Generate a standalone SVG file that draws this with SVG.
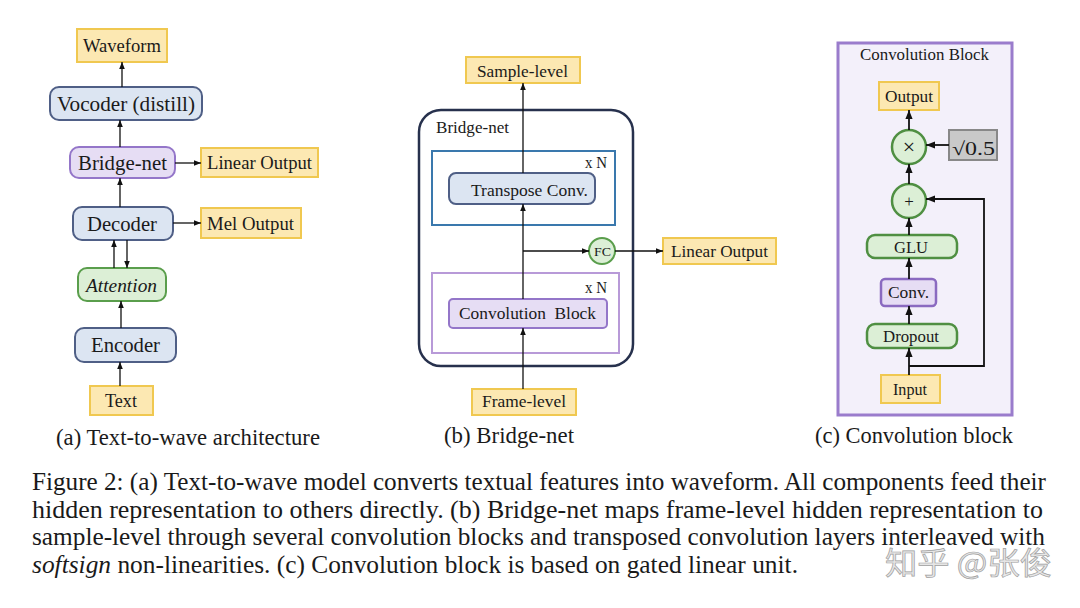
<svg xmlns="http://www.w3.org/2000/svg" width="1080" height="608" viewBox="0 0 1080 608">
<defs>
<marker id="ah" viewBox="0 0 10 10" refX="10" refY="5" markerWidth="7" markerHeight="7" markerUnits="userSpaceOnUse" orient="auto"><path d="M0,1 L10,5 L0,9 Z" fill="#111"/></marker>
<marker id="ahb" viewBox="0 0 10 10" refX="10" refY="5" markerWidth="9" markerHeight="9" markerUnits="userSpaceOnUse" orient="auto"><path d="M0,1 L10,5 L0,9 Z" fill="#111"/></marker>
<style>
text{font-family:"Liberation Serif","Times New Roman",serif;fill:#1a1a1a}
.y{fill:#fce8b2;stroke:#f0c850;stroke-width:2}
.b{fill:#dce5f2;stroke:#4f5f86;stroke-width:2}
.p{fill:#e6ddf4;stroke:#9476c9;stroke-width:2}
.g{fill:#dcefd6;stroke:#5a9e4c;stroke-width:2}
.gt{fill:#dcefd6;stroke:#4f8f42;stroke-width:2.5}
.c{fill:none;stroke:#111;stroke-width:1.3;marker-end:url(#ah)}
.cb{fill:none;stroke:#111;stroke-width:1.8;marker-end:url(#ahb)}
.t20{font-size:21px}
.t17{font-size:18.5px}
.t16{font-size:17px}
.t15{font-size:17px}
.cap{font-size:22.5px}
.body{font-size:25px}
</style>
</defs>
<rect width="1080" height="608" fill="#ffffff"/>

<!-- Panel (a) -->
<g id="a-waveform"><rect class="y" x="77" y="29" width="90" height="33"/><text class="t17" x="83" y="52" textLength="78" lengthAdjust="spacingAndGlyphs">Waveform</text></g>
<g id="a-vocoder"><rect class="b" x="50" y="87" width="152" height="33" rx="9"/><text class="t20" x="57" y="111" textLength="138" lengthAdjust="spacingAndGlyphs">Vocoder (distill)</text></g>
<g id="a-bridge"><rect class="p" x="70" y="147" width="105" height="31" rx="9"/><text class="t20" x="78" y="170" textLength="89" lengthAdjust="spacingAndGlyphs">Bridge-net</text></g>
<g id="a-linear"><rect class="y" x="201" y="148" width="117" height="29"/><text class="t17" x="207" y="169" textLength="105" lengthAdjust="spacingAndGlyphs">Linear Output</text></g>
<g id="a-decoder"><rect class="b" x="73" y="207" width="100" height="33" rx="9"/><text class="t20" x="87" y="231" textLength="70" lengthAdjust="spacingAndGlyphs">Decoder</text></g>
<g id="a-mel"><rect class="y" x="201" y="208" width="100" height="30"/><text class="t17" x="207" y="230" textLength="87" lengthAdjust="spacingAndGlyphs">Mel Output</text></g>
<g id="a-attention"><rect class="g" x="78" y="268" width="88" height="33" rx="9"/><text class="t17" x="86" y="292" font-style="italic" textLength="71" lengthAdjust="spacingAndGlyphs">Attention</text></g>
<g id="a-encoder"><rect class="b" x="75" y="328" width="101" height="34" rx="9"/><text class="t20" x="91" y="352" textLength="69" lengthAdjust="spacingAndGlyphs">Encoder</text></g>
<g id="a-text"><rect class="y" x="90" y="386" width="63" height="29"/><text class="t17" x="105" y="407" textLength="32" lengthAdjust="spacingAndGlyphs">Text</text></g>
<text class="cap" x="56" y="445" textLength="264" lengthAdjust="spacingAndGlyphs">(a) Text-to-wave architecture</text>

<!-- Panel (b) -->
<g id="b-bridge"><rect x="419" y="110" width="214" height="256" rx="22" fill="none" stroke="#27314d" stroke-width="2.5"/><text class="t16" x="436" y="133" textLength="73" lengthAdjust="spacingAndGlyphs">Bridge-net</text></g>
<g id="b-transpose-group"><rect x="432" y="151" width="183" height="74" fill="none" stroke="#3a78ad" stroke-width="2"/><text class="t16" x="585" y="168" textLength="22" lengthAdjust="spacingAndGlyphs">x N</text></g>
<g id="b-transpose"><rect class="b" x="449" y="173" width="146" height="31" rx="7"/><text class="t16" x="471" y="196" textLength="117" lengthAdjust="spacingAndGlyphs">Transpose Conv.</text></g>
<g id="b-conv-group"><rect x="432" y="273" width="187" height="80" fill="none" stroke="#b89ad8" stroke-width="2"/><text class="t16" x="585" y="293" textLength="22" lengthAdjust="spacingAndGlyphs">x N</text></g>
<g id="b-convblock"><rect class="p" x="449" y="299" width="158" height="29" rx="4"/><text class="t16" x="459" y="319" xml:space="preserve" textLength="137" lengthAdjust="spacingAndGlyphs">Convolution  Block</text></g>
<g id="b-sample"><rect class="y" x="466" y="57" width="114" height="26"/><text class="t16" x="477" y="77" textLength="91" lengthAdjust="spacingAndGlyphs">Sample-level</text></g>
<g id="b-frame"><rect class="y" x="472" y="389" width="104" height="26"/><text class="t16" x="482" y="407" textLength="84" lengthAdjust="spacingAndGlyphs">Frame-level</text></g>
<g id="b-fc"><circle cx="602" cy="251" r="13" class="g"/><text font-size="13.5px" x="594" y="256" textLength="17" lengthAdjust="spacingAndGlyphs">FC</text></g>
<g id="b-linear"><rect class="y" x="663" y="238" width="113" height="26"/><text class="t16" x="671" y="257" textLength="97" lengthAdjust="spacingAndGlyphs">Linear Output</text></g>
<text class="cap" x="444" y="443" textLength="130" lengthAdjust="spacingAndGlyphs">(b) Bridge-net</text>

<!-- Panel (c) -->
<g id="c-block"><rect x="838" y="43" width="174" height="372" fill="#f3f0fa" stroke="#9a7ccc" stroke-width="3"/><text class="t15" x="860" y="60" textLength="129" lengthAdjust="spacingAndGlyphs">Convolution Block</text></g>
<g id="c-output"><rect class="y" x="879" y="82" width="60" height="28"/><text class="t15" x="885" y="102" textLength="48" lengthAdjust="spacingAndGlyphs">Output</text></g>
<g id="c-mul"><circle cx="909" cy="147" r="17" class="gt"/><text font-size="22px" text-anchor="middle" x="909" y="154">×</text></g>
<g id="c-sqrt"><rect x="949" y="130" width="48" height="30" fill="#c9c9c9" stroke="#888" stroke-width="2"/><text font-size="19px" x="952" y="155" textLength="43" lengthAdjust="spacingAndGlyphs">√0.5</text></g>
<g id="c-add"><circle cx="909" cy="201" r="17" class="gt"/><text font-size="17px" text-anchor="middle" x="909" y="207">+</text></g>
<g id="c-glu"><rect class="gt" x="867" y="235" width="90" height="23" rx="8"/><text class="t15" x="894" y="253" textLength="34" lengthAdjust="spacingAndGlyphs">GLU</text></g>
<g id="c-conv"><rect x="881" y="279" width="55" height="27" rx="4" fill="#e6ddf4" stroke="#8a6ac0" stroke-width="2.5"/><text class="t15" x="888" y="298" textLength="41" lengthAdjust="spacingAndGlyphs">Conv.</text></g>
<g id="c-dropout"><rect class="gt" x="867" y="324" width="90" height="24" rx="8"/><text class="t15" x="883" y="342" textLength="56" lengthAdjust="spacingAndGlyphs">Dropout</text></g>
<g id="c-input"><rect class="y" x="881" y="375" width="59" height="28"/><text class="t15" x="893" y="395" textLength="34" lengthAdjust="spacingAndGlyphs">Input</text></g>
<text class="cap" x="815" y="443" textLength="198" lengthAdjust="spacingAndGlyphs">(c) Convolution block</text>

<!-- Connectors -->
<g id="connectors">
<line class="c" x1="122" y1="87" x2="122" y2="62"/>
<line class="c" x1="120" y1="147" x2="120" y2="120"/>
<line class="c" x1="175" y1="163" x2="201" y2="163"/>
<line class="c" x1="120" y1="207" x2="120" y2="178"/>
<line class="c" x1="173" y1="223" x2="201" y2="223"/>
<line class="c" x1="114" y1="268" x2="114" y2="240"/>
<line class="c" x1="127" y1="240" x2="127" y2="268"/>
<line class="c" x1="121" y1="328" x2="121" y2="301"/>
<line class="c" x1="120" y1="386" x2="120" y2="362"/>

<line class="c" x1="523" y1="173" x2="523" y2="83"/>
<line class="c" x1="523" y1="299" x2="523" y2="204"/>
<polyline class="c" points="523,251 589,251"/>
<line class="c" x1="615" y1="251" x2="663" y2="251"/>
<line class="c" x1="523" y1="389" x2="523" y2="328"/>

<line class="cb" x1="909" y1="130" x2="909" y2="110"/>
<line class="cb" x1="949" y1="145" x2="926" y2="145"/>
<line class="cb" x1="909" y1="184" x2="909" y2="164"/>
<line class="cb" x1="909" y1="235" x2="909" y2="218"/>
<line class="cb" x1="909" y1="279" x2="909" y2="258"/>
<line class="cb" x1="909" y1="324" x2="909" y2="306"/>
<line class="cb" x1="909" y1="375" x2="909" y2="348"/>
<polyline class="cb" points="909,366 984,366 984,199 926,199"/>
</g>

<!-- Figure caption -->
<text class="body" x="32" y="490" textLength="1014" lengthAdjust="spacingAndGlyphs">Figure 2: (a) Text-to-wave model converts textual features into waveform. All components feed their</text>
<text class="body" x="32" y="517.5" textLength="1011" lengthAdjust="spacingAndGlyphs">hidden representation to others directly. (b) Bridge-net maps frame-level hidden representation to</text>
<text class="body" x="32" y="545" textLength="1013" lengthAdjust="spacingAndGlyphs">sample-level through several convolution blocks and transposed convolution layers interleaved with</text>
<text class="body" x="32" y="572.5" textLength="766" lengthAdjust="spacingAndGlyphs"><tspan font-style="italic">softsign</tspan> non-linearities. (c) Convolution block is based on gated linear unit.</text>
<text x="885" y="574" font-size="31px" stroke="#a0a0a0" stroke-width="0.7" textLength="167" lengthAdjust="spacingAndGlyphs" style="font-family:'Noto Sans CJK SC',sans-serif;fill:#e6e6e6">知乎 @张俊</text>
</svg>
